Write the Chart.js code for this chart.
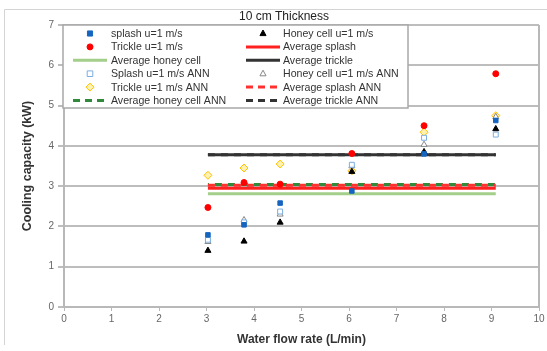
<!DOCTYPE html>
<html>
<head>
<meta charset="utf-8">
<script src="https://cdn.jsdelivr.net/npm/chart.js@4/dist/chart.umd.min.js"></script>
<style>
  html, body { margin: 0; padding: 0; background: #fff; }
  #wrap { width: 547px; height: 351px; position: relative; }
</style>
</head>
<body>
<div id="wrap"><canvas id="coolChart" width="547" height="351"></canvas></div>
<script>
// flow rates (L/min)
var flowRate = [3.03, 3.79, 4.55, 6.06, 7.58, 9.09];

// measured cooling capacity (kW)
var splash   = [1.79, 2.04, 2.58, 2.88, 3.80, 4.63];
var honey    = [1.40, 1.63, 2.10, 3.36, 3.85, 4.42];
var trickle  = [2.47, 3.09, 3.05, 3.81, 4.50, 5.79];

// ANN predictions (kW)
var splashAnn  = [1.67, 2.10, 2.37, 3.53, 4.20, 4.28];
var honeyAnn   = [1.62, 2.16, 2.30, 3.50, 4.03, 4.72];
var trickleAnn = [3.27, 3.45, 3.55, 3.38, 4.34, 4.75];

// averages, drawn across the tested range
var avgRange      = [3.03, 9.09];
var avgSplash     = [2.95, 2.95];
var avgHoney      = [2.81, 2.81];
var avgTrickle    = [3.78, 3.78];
var avgSplashAnn  = [3.02, 3.02];
var avgHoneyAnn   = [3.04, 3.04];
var avgTrickleAnn = [3.78, 3.78];

var xTicks = [0, 1, 2, 3, 4, 5, 6, 7, 8, 9, 10];
var yTicks = [0, 1, 2, 3, 4, 5, 6, 7];

var FONT = '"Liberation Sans", Arial, sans-serif';

function pts(xs, ys) {
  return xs.map(function(x, i) { return { x: x, y: ys[i] }; });
}

function markSet(label, ys, style, fill, border, r) {
  return {
    label: label, data: pts(flowRate, ys), showLine: false,
    pointStyle: style, pointRadius: r, pointBackgroundColor: fill,
    pointBorderColor: border, pointBorderWidth: 1, order: 1
  };
}

function lineSet(label, ys, color, dash, offset, order) {
  return {
    label: label, data: pts(avgRange, ys), showLine: true,
    borderColor: color, borderWidth: 3, borderDash: dash || [],
    borderDashOffset: offset || 0, pointRadius: 0, order: order || 5
  };
}

var datasets = [
  markSet('splash u=1 m/s', splash, 'rect', '#1565c0', '#1565c0', 3.2),
  markSet('Honey cell u=1 m/s', honey, 'triangle', '#000', '#000', 3.5),
  markSet('Trickle u=1 m/s', trickle, 'circle', '#ff0000', '#ff0000', 3),
  lineSet('Average splash', avgSplash, '#ff2020'),
  lineSet('Average honey cell', avgHoney, '#a3cf8a'),
  lineSet('Average trickle', avgTrickle, '#333333'),
  markSet('Splash u=1 m/s ANN', splashAnn, 'rect', '#fff', '#7aaee0', 3.5),
  markSet('Honey cell u=1 m/s ANN', honeyAnn, 'triangle', '#fff', '#888', 3.5),
  markSet('Trickle u=1 m/s ANN', trickleAnn, 'rectRot', '#fff2b0', '#ffc000', 4),
  lineSet('Average splash ANN', avgSplashAnn, '#ff3030', [7, 6], 0),
  lineSet('Average honey cell ANN', avgHoneyAnn, '#2f8a3c', [7, 6], 6),
  // sits under the solid trickle average
  lineSet('Average trickle ANN', avgTrickleAnn, '#333333', [7, 6], 0, 7)
];

function drawSymbol(ctx, ds, cx, cy) {
  if (ds.showLine) {
    ctx.save();
    ctx.strokeStyle = ds.borderColor;
    ctx.lineWidth = 3;
    ctx.setLineDash(ds.borderDash.length ? [7, 5] : []);
    ctx.beginPath();
    ctx.moveTo(cx - 17, cy);
    ctx.lineTo(cx + 17, cy);
    ctx.stroke();
    ctx.restore();
    return;
  }
  var r = ds.pointRadius;
  ctx.save();
  ctx.fillStyle = ds.pointBackgroundColor;
  ctx.strokeStyle = ds.pointBorderColor;
  ctx.lineWidth = 1;
  ctx.beginPath();
  if (ds.pointStyle === 'rect') {
    ctx.rect(cx - r * 0.8, cy - r * 0.8, r * 1.6, r * 1.6);
  } else if (ds.pointStyle === 'triangle') {
    ctx.moveTo(cx, cy - r);
    ctx.lineTo(cx + r * 0.87, cy + r * 0.6);
    ctx.lineTo(cx - r * 0.87, cy + r * 0.6);
    ctx.closePath();
  } else if (ds.pointStyle === 'rectRot') {
    ctx.moveTo(cx, cy - r);
    ctx.lineTo(cx + r, cy);
    ctx.lineTo(cx, cy + r);
    ctx.lineTo(cx - r, cy);
    ctx.closePath();
  } else {
    ctx.arc(cx, cy, r, 0, Math.PI * 2);
  }
  ctx.fill();
  ctx.stroke();
  ctx.restore();
}

// frame, title and the two-column legend box
var decor = {
  id: 'decor',
  afterDraw: function(chart) {
    var ctx = chart.ctx, a = chart.chartArea;
    ctx.save();
    // outer frame
    ctx.strokeStyle = '#d4d4d4';
    ctx.lineWidth = 1;
    ctx.beginPath();
    ctx.moveTo(4.5, 345);
    ctx.lineTo(4.5, 9.5);
    ctx.lineTo(547, 9.5);
    ctx.stroke();
    // plot border right
    ctx.strokeStyle = '#b8b8b8';
    ctx.lineWidth = 2;
    ctx.beginPath();
    ctx.moveTo(a.right, a.top);
    ctx.lineTo(a.right, a.bottom);
    ctx.stroke();

    ctx.fillStyle = '#222';
    ctx.font = '12px ' + FONT;
    ctx.textAlign = 'center';
    ctx.textBaseline = 'middle';
    ctx.fillText('10 cm Thickness', 284, 17);

    // legend
    ctx.fillStyle = '#fff';
    ctx.fillRect(63, 25, 345, 83);
    ctx.strokeStyle = '#a8a8a8';
    ctx.lineWidth = 1.5;
    ctx.strokeRect(63, 25, 345, 83);
    ctx.font = '10.6px ' + FONT;
    ctx.textAlign = 'left';
    chart.data.datasets.forEach(function(ds, i) {
      var col = i % 2, row = Math.floor(i / 2);
      var y = 33.5 + row * 13.4;
      var sx = col ? 263 : 90;
      var tx = col ? 283 : 111;
      drawSymbol(ctx, ds, sx, y);
      ctx.fillStyle = '#333';
      ctx.fillText(ds.label, tx, y + 0.5);
    });
    ctx.restore();
  }
};

new Chart(document.getElementById('coolChart').getContext('2d'), {
  type: 'scatter',
  data: { datasets: datasets },
  options: {
    responsive: false,
    animation: false,
    layout: { padding: { left: 0, right: 8, top: 25, bottom: 0 } },
    plugins: { legend: { display: false }, tooltip: { enabled: false } },
    scales: {
      x: {
        type: 'linear', min: 0, max: 10,
        afterFit: function(s) { s.height = 44; },
        afterBuildTicks: function(s) { s.ticks = xTicks.map(function(v) { return { value: v }; }); },
        grid: { drawOnChartArea: false, color: '#b8b8b8', tickLength: 4, lineWidth: 1 },
        border: { color: '#b8b8b8', width: 2 },
        ticks: { color: '#666', padding: 2, font: { size: 10, family: FONT } },
        title: {
          display: true, text: 'Water flow rate (L/min)', color: '#333',
          padding: { top: 2 },
          font: { size: 12, weight: 'bold', family: FONT }
        }
      },
      y: {
        type: 'linear', min: 0, max: 7,
        afterFit: function(s) { s.width = 64; },
        afterBuildTicks: function(s) { s.ticks = yTicks.map(function(v) { return { value: v }; }); },
        grid: { color: '#bdbdbd', lineWidth: 2, tickLength: 6 },
        border: { color: '#b8b8b8', width: 2 },
        ticks: { color: '#666', padding: 4, font: { size: 10, family: FONT } },
        title: {
          display: true, text: 'Cooling capacity (kW)', color: '#333',
          padding: { top: 20, bottom: 0 },
          font: { size: 12.5, weight: 'bold', family: FONT }
        }
      }
    }
  },
  plugins: [decor]
});
</script>
</body>
</html>
